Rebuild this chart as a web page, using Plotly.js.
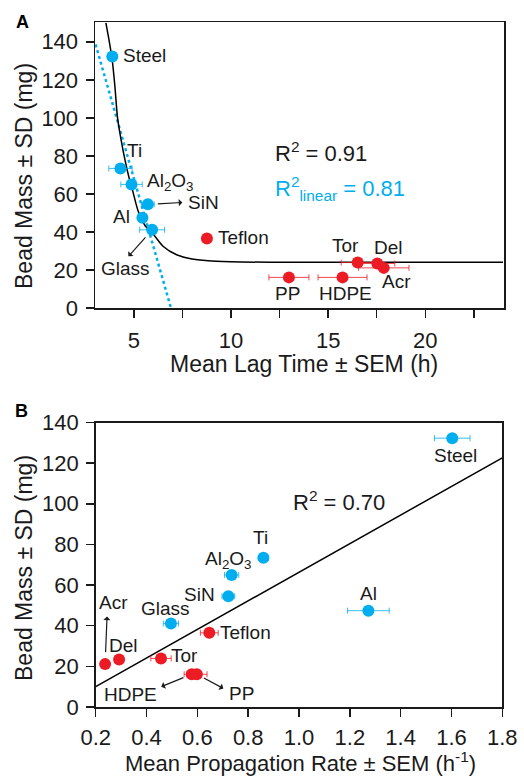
<!DOCTYPE html>
<html>
<head>
<meta charset="utf-8">
<script src="https://cdn.plot.ly/plotly-3.0.1.min.js"></script>
<style>html,body{margin:0;padding:0;background:#fff;}#chart{width:524px;height:777px;}</style>
</head>
<body>
<div id="chart"></div>
<script>
// ---------- data ----------
const blueNames = ["Steel", "Ti", "Al2O3", "SiN", "Al", "Glass"];
const redNames  = ["Teflon", "PP", "HDPE", "Tor", "Del", "Acr"];

const blueMass = [132.3, 73.4, 65.0, 54.5, 47.4, 41.1];
const redMass  = [36.5, 16.1, 16.1, 23.9, 23.4, 21.1];

// Panel A: mean lag time (h) and SEM
const blueLag    = [3.89, 4.31, 4.88, 5.72, 5.44, 5.94];
const blueLagSEM = [0.0, 0.6, 0.55, 0.33, 0.1, 0.64];
const redLag     = [8.76, 12.98, 15.74, 16.52, 17.53, 17.86];
const redLagSEM  = [0.0, 1.03, 1.26, 0.85, 0.9, 1.3];

// Panel A fitted curves
const fitCurveX = [3.56, 3.72, 3.88, 4.02, 4.16, 4.35, 4.54, 4.74, 4.93, 5.22, 5.6, 6.0, 6.5, 7.2, 8.0, 9.0, 10.5, 13, 24];
const fitCurveY = [150, 141, 131, 117, 100, 88, 78, 69, 62, 51, 43, 38.8, 32.5, 28, 25.8, 24.7, 24.2, 24.0, 24.0];
const linFitX = [3.03, 6.91];
const linFitY = [138.6, 0];

// Panel B: mean propagation rate (1/h) and SEM
const blueRate    = [1.603, 0.86, 0.735, 0.722, 1.273, 0.496];
const blueRateSEM = [0.07, 0.02, 0.028, 0.025, 0.082, 0.03];
const redRate     = [0.647, 0.598, 0.578, 0.457, 0.292, 0.237];
const redRateSEM  = [0.035, 0.04, 0.03, 0.04, 0.0, 0.0];
const rateFitX = [0.2, 1.8];
const rateFitY = [10.0, 122.6];

const tickA_x = [5, 7.5, 10, 12.5, 15, 17.5, 20, 22.5];
const tickA_xText = ["5", "", "10", "", "15", "", "20", ""];
const tickB_x = [0.2, 0.4, 0.6, 0.8, 1.0, 1.2, 1.4, 1.6, 1.8];
const tickY = [0, 20, 40, 60, 80, 100, 120, 140];

// ---------- style ----------
const BLUE = "#00AEEF", RED = "#ED1C24";
const BLUE_ERR = "rgba(0,174,239,0.8)", RED_ERR = "rgba(237,28,36,0.8)";
const FONT = "Liberation Sans, Arial, Helvetica, sans-serif";
const INK = "#1a1a1a";
const W = 524, H = 777;

function pts(x, y, err, color, ecolor, xa, ya) {
  return {
    type: "scatter", mode: "markers", x: x, y: y, xaxis: xa, yaxis: ya,
    marker: {color: color, size: 12},
    error_x: {type: "data", array: err, visible: true, thickness: 1, width: 3, color: ecolor},
    showlegend: false, hoverinfo: "skip", cliponaxis: false
  };
}

const traces = [
  {type: "scatter", mode: "lines", x: linFitX, y: linFitY, xaxis: "x", yaxis: "y",
   line: {color: BLUE, width: 2.5, dash: "dot"}, showlegend: false, hoverinfo: "skip"},
  {type: "scatter", mode: "lines", x: fitCurveX, y: fitCurveY, xaxis: "x", yaxis: "y",
   line: {color: "#000", width: 1.5, shape: "spline", smoothing: 0.7}, showlegend: false, hoverinfo: "skip"},
  pts(blueLag, blueMass, blueLagSEM, BLUE, BLUE_ERR, "x", "y"),
  pts(redLag, redMass, redLagSEM, RED, RED_ERR, "x", "y"),
  {type: "scatter", mode: "lines", x: rateFitX, y: rateFitY, xaxis: "x2", yaxis: "y2",
   line: {color: "#000", width: 1.5}, showlegend: false, hoverinfo: "skip"},
  pts(blueRate, blueMass, blueRateSEM, BLUE, BLUE_ERR, "x2", "y2"),
  pts(redRate, redMass, redRateSEM, RED, RED_ERR, "x2", "y2")
];

const labelFont = {family: FONT, size: 19, color: INK};
const pretty = {"Al2O3": "Al<sub>2</sub>O<sub>3</sub>"};

function lab(xa, ya, names, xs, ys, name, anchor, dx, dy) {
  const i = names.indexOf(name);
  return {xref: xa, yref: ya, x: xs[i], y: ys[i], text: pretty[name] || name,
          showarrow: false, xanchor: anchor, yanchor: "middle", xshift: dx, yshift: dy, font: labelFont};
}
function arr(xa, ya, names, xs, ys, name, ax, ay, so) {
  const i = names.indexOf(name);
  return {xref: xa, yref: ya, x: xs[i], y: ys[i], text: "", showarrow: true,
          ax: ax, ay: ay, axref: "pixel", ayref: "pixel", arrowside: "start",
          arrowhead: 2, arrowsize: 1.1, arrowwidth: 1.2, arrowcolor: INK, standoff: so};
}

const B = ["x", "y", blueNames, blueLag, blueMass];
const R = ["x", "y", redNames, redLag, redMass];
const B2 = ["x2", "y2", blueNames, blueRate, blueMass];
const R2 = ["x2", "y2", redNames, redRate, redMass];

const annotations = [
  // panel A labels
  lab(...B, "Steel", "left", 9, 1),
  lab(...B, "Ti", "left", 5, 18),
  lab(...B, "Al2O3", "left", 13, 2),
  lab(...B, "SiN", "left", 38, 2),
  lab(...B, "Al", "right", -10, 1),
  lab(...B, "Glass", "center", -27, -39),
  lab(...R, "Teflon", "left", 9, 1),
  lab(...R, "Tor", "center", -12, 17),
  lab(...R, "Del", "center", 11, 16),
  lab(...R, "Acr", "center", 13, -14),
  lab(...R, "PP", "center", -1, -16),
  lab(...R, "HDPE", "center", 3, -16),
  arr(...B, "SiN", 36, -2, 10),
  arr(...B, "Glass", -25, 28, 10),
  // panel B labels
  lab(...B2, "Steel", "center", 3, -17),
  lab(...B2, "Ti", "center", -3, 20),
  lab(...B2, "Al", "center", 0, 17),
  lab(...B2, "Al2O3", "center", -3, 15),
  lab(...B2, "SiN", "right", -11, 2),
  lab(...B2, "Glass", "center", -5, 15),
  lab(...R2, "Teflon", "left", 9, 0),
  lab(...R2, "Tor", "left", 8, 3),
  lab(...R2, "Del", "center", 4, 14),
  lab(...R2, "Acr", "center", 8, 62),
  lab(...R2, "HDPE", "center", -61, -20),
  lab(...R2, "PP", "center", 45, -19),
  arr(...R2, "Acr", 2, -49, 12),
  arr(...R2, "HDPE", -32, 13, 9),
  arr(...R2, "PP", 28, 15, 8),
  // statistics
  {xref: "paper", yref: "paper", x: 273 / W, y: 1 - 152 / H, xanchor: "left", yanchor: "middle",
   text: "R<sup>2</sup> = 0.91", showarrow: false, font: {family: FONT, size: 22, color: INK}},
  {xref: "paper", yref: "paper", x: 273 / W, y: 1 - 188 / H, xanchor: "left", yanchor: "middle",
   text: "R<sup>2</sup><sub>linear</sub> = 0.81", showarrow: false, font: {family: FONT, size: 22, color: BLUE}},
  {xref: "paper", yref: "paper", x: 291 / W, y: 1 - 501 / H, xanchor: "left", yanchor: "middle",
   text: "R<sup>2</sup> = 0.70", showarrow: false, font: {family: FONT, size: 22, color: INK}},
  // panel letters
  {xref: "paper", yref: "paper", x: 22 / W, y: 1 - 22 / H, xanchor: "center", yanchor: "middle",
   text: "<b>A</b>", showarrow: false, font: {family: FONT, size: 18, color: "#000"}},
  {xref: "paper", yref: "paper", x: 21 / W, y: 1 - 411 / H, xanchor: "center", yanchor: "middle",
   text: "<b>B</b>", showarrow: false, font: {family: FONT, size: 18, color: "#000"}},
  // axis titles
  {xref: "paper", yref: "paper", x: 304 / W, y: 1 - 364 / H, xanchor: "center", yanchor: "middle",
   text: "Mean Lag Time ± SEM (h)", showarrow: false, font: {family: FONT, size: 23, color: INK}},
  {xref: "paper", yref: "paper", x: 300 / W, y: 0, xanchor: "center", yanchor: "bottom", borderpad: 0,
   text: "Mean Propagation Rate ± SEM (h<sup>-1</sup>)", showarrow: false, font: {family: FONT, size: 22, color: INK}},
  {xref: "paper", yref: "paper", x: 24 / W, y: 1 - 176 / H, xanchor: "center", yanchor: "middle", textangle: -90,
   text: "Bead Mass ± SD (mg)", showarrow: false, font: {family: FONT, size: 23, color: INK}},
  {xref: "paper", yref: "paper", x: 24 / W, y: 1 - 568 / H, xanchor: "center", yanchor: "middle", textangle: -90,
   text: "Bead Mass ± SD (mg)", showarrow: false, font: {family: FONT, size: 23, color: INK}}
];

const axCommon = {
  showline: true, linecolor: INK, linewidth: 1.5, mirror: true,
  ticks: "outside", ticklen: 8, tickwidth: 1.5, tickcolor: INK,
  showgrid: false, zeroline: false, automargin: false, fixedrange: true,
  tickfont: {family: FONT, size: 22, color: INK}
};

const layout = {
  width: W, height: H,
  margin: {l: 0, r: 0, t: 0, b: 0},
  paper_bgcolor: "#fff", plot_bgcolor: "#fff",
  showlegend: false,
  xaxis: Object.assign({}, axCommon, {domain: [95 / W, 504 / W], range: [3.0, 24.05],
    tickmode: "array", tickvals: tickA_x, ticktext: tickA_xText, anchor: "y", ticklabelstandoff: 4}),
  yaxis: Object.assign({}, axCommon, {domain: [1 - 308 / H, 1 - 22 / H], range: [0, 150.4],
    tickmode: "array", tickvals: tickY, anchor: "x", ticklabelstandoff: 3}),
  xaxis2: Object.assign({}, axCommon, {domain: [95.7 / W, 502.3 / W], range: [0.2, 1.8],
    tickmode: "array", tickvals: tickB_x, tickformat: ".1f", anchor: "y2", ticklabelstandoff: 2}),
  yaxis2: Object.assign({}, axCommon, {domain: [1 - 707 / H, 1 - 422.5 / H], range: [0, 140],
    tickmode: "array", tickvals: tickY, anchor: "x2", ticklabelstandoff: 3}),
  annotations: annotations
};

Plotly.newPlot("chart", traces, layout, {displayModeBar: false, staticPlot: true});
</script>
</body>
</html>
